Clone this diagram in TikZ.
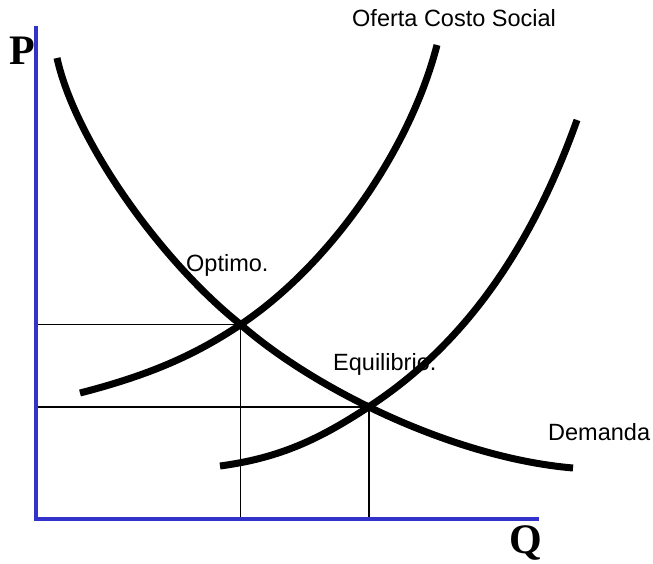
\documentclass[tikz,border=0pt]{standalone}
\usepackage{fontspec}
\setmainfont{Liberation Serif}
\newfontfamily\arialf{Liberation Sans}
\usetikzlibrary{intersections}
\begin{document}
\begin{tikzpicture}[x=1pt,y=-1pt,
  axis/.style={line width=4pt,draw={rgb,255:red,51;green,51;blue,204}},
  curve/.style={line width=7pt,line cap=butt},
  guide/.style={line width=1.7pt},
  lbl/.style={font=\arialf\fontsize{23.5}{26}\selectfont,inner sep=0pt,anchor=west},
  axl/.style={font=\bfseries\fontsize{42}{44}\selectfont,inner sep=0pt}]
\useasboundingbox (0,0) rectangle (653,564);
\coordinate (O) at (36,519);
\coordinate (Ytop) at (36,28);
\coordinate (Xend) at (537,519);
\def\demcurve{(57,58) .. controls (75,140) and (160,260) .. (240,324)
   .. controls (315,390) and (455,458) .. (573,468)}
\def\soccurve{(80,393) .. controls (150,375) and (195,355) .. (240,325)
   .. controls (330,265) and (410,150) .. (437,45)}
\def\pricurve{(220,466) .. controls (280,458) and (320,439) .. (370,406)
   .. controls (440,360) and (520,280) .. (577,120)}
\path[name path=dem] \demcurve;
\path[name path=soc] \soccurve;
\path[name path=pri] \pricurve;
\path[name intersections={of=dem and soc,by=opt}];
\path[name intersections={of=dem and pri,by=eq}];
% guides
\draw[guide] (O |- opt) -- (opt);
\draw[guide] (O |- eq) -- (eq);
\draw[guide] (opt) -- (opt |- O);
\draw[guide] (eq) -- (eq |- O);
% curves
\draw[curve] \demcurve;
\draw[curve] \soccurve;
\draw[curve] \pricurve;
% axes
\draw[axis,line cap=rect] (Ytop) -- (O) -- (Xend);
\node[axl] (P) at (22,51) {P};
\node[axl] (Q) at (526,543) {Q};
\node[lbl] (ofe) at (352,18) {Oferta Costo Social};
\node[lbl] (optl) at (186,265) {Optimo.};
\node[lbl] (eql) at (333,364) {Equilibrio.};
\node[lbl] (dem) at (548,432) {Demanda};
\end{tikzpicture}
\end{document}
